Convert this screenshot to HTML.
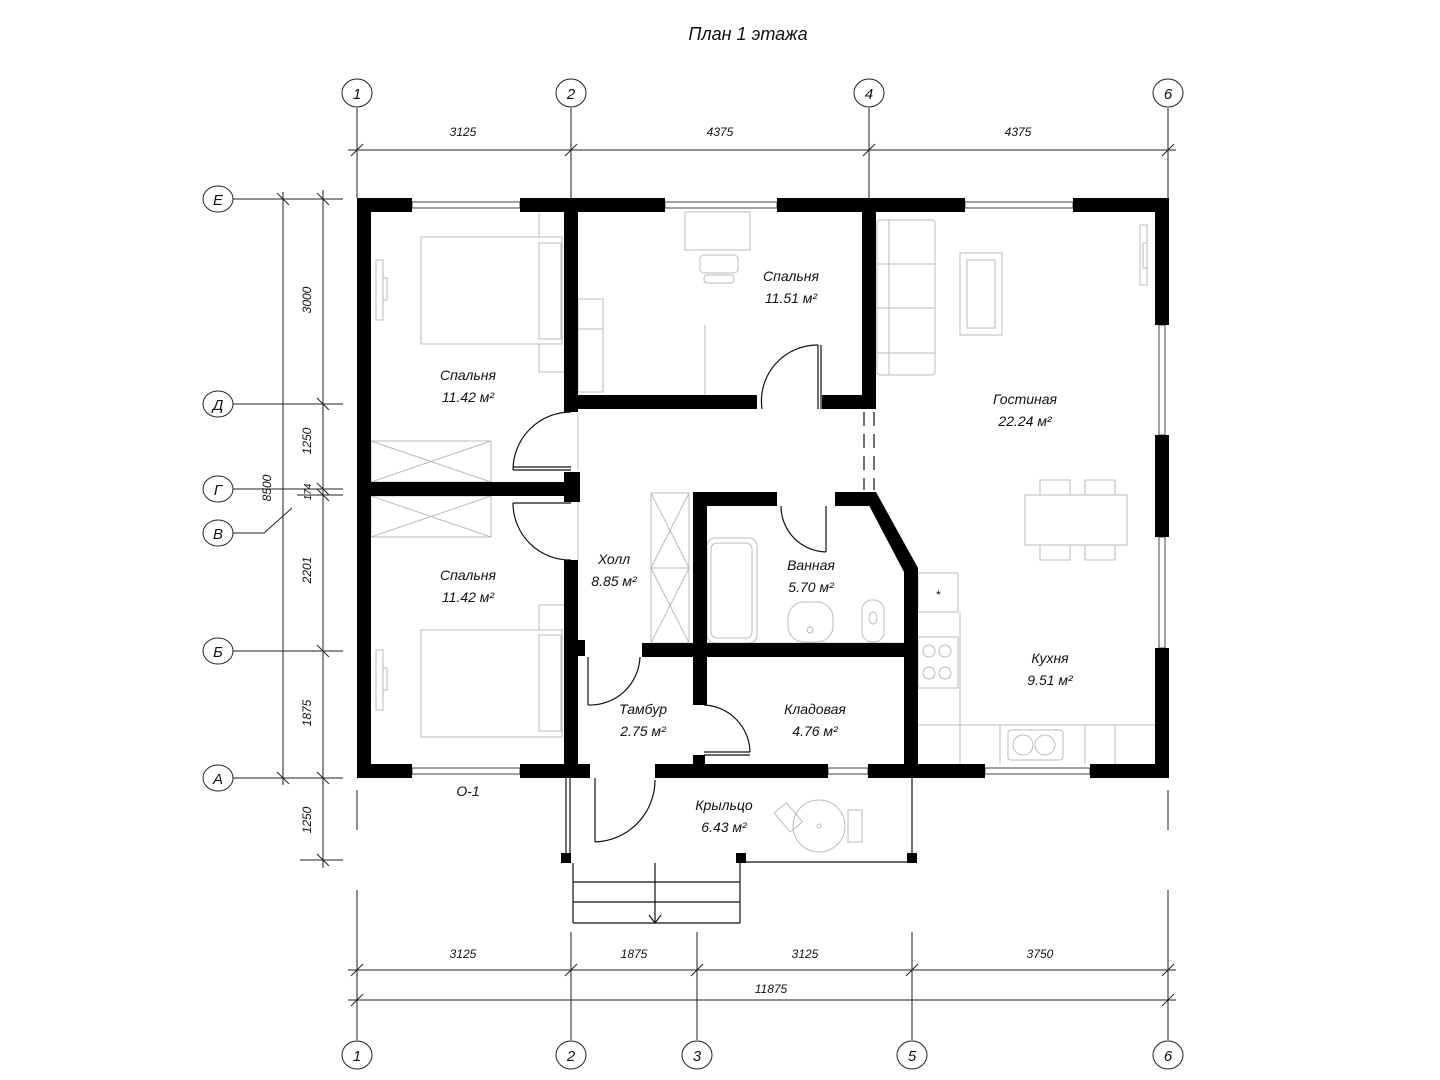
<!DOCTYPE html>
<html><head><meta charset="utf-8"><style>
html,body{margin:0;padding:0;background:#fff}
svg{display:block}
text{font-family:"Liberation Sans",sans-serif;font-style:italic;fill:#111}
</style></head><body>
<svg width="1440" height="1080" viewBox="0 0 1440 1080" xmlns="http://www.w3.org/2000/svg">
<rect width="1440" height="1080" fill="#fff"/>
<text x="748" y="40" font-size="18" text-anchor="middle">План 1 этажа</text>

<g stroke="#222" stroke-width="1" fill="none">
<line x1="357" y1="108" x2="357" y2="198"/><line x1="571" y1="108" x2="571" y2="198"/>
<line x1="869" y1="108" x2="869" y2="198"/><line x1="1168" y1="108" x2="1168" y2="198"/>
<line x1="348" y1="150" x2="1176" y2="150"/>
<line x1="351" y1="156" x2="363" y2="144"/><line x1="565" y1="156" x2="577" y2="144"/>
<line x1="863" y1="156" x2="875" y2="144"/><line x1="1162" y1="156" x2="1174" y2="144"/>
<ellipse cx="357" cy="93" rx="15" ry="14"/><ellipse cx="571" cy="93" rx="15" ry="14"/>
<ellipse cx="869" cy="93" rx="15" ry="14"/><ellipse cx="1168" cy="93" rx="15" ry="14"/>

<ellipse cx="218" cy="199" rx="15" ry="13"/><ellipse cx="218" cy="404" rx="15" ry="13"/>
<ellipse cx="218" cy="489" rx="15" ry="13"/><ellipse cx="218" cy="533" rx="15" ry="13"/>
<ellipse cx="218" cy="651" rx="15" ry="13"/><ellipse cx="218" cy="778" rx="15" ry="13"/>
<line x1="233" y1="199" x2="343" y2="199"/><line x1="233" y1="404" x2="343" y2="404"/>
<line x1="233" y1="489" x2="343" y2="489"/><line x1="297" y1="495" x2="343" y2="495"/>
<polyline points="233,533 264,533 292,508"/>
<line x1="233" y1="651" x2="343" y2="651"/><line x1="233" y1="778" x2="343" y2="778"/>
<line x1="300" y1="860" x2="343" y2="860"/>
<line x1="283" y1="192" x2="283" y2="785"/>
<line x1="323" y1="190" x2="323" y2="868"/>
<line x1="277" y1="193" x2="289" y2="205"/><line x1="277" y1="772" x2="289" y2="784"/>
<line x1="317" y1="193" x2="329" y2="205"/><line x1="317" y1="398" x2="329" y2="410"/>
<line x1="317" y1="483" x2="329" y2="495"/><line x1="317" y1="489" x2="329" y2="501"/>
<line x1="317" y1="645" x2="329" y2="657"/><line x1="317" y1="772" x2="329" y2="784"/>
<line x1="317" y1="854" x2="329" y2="866"/>

<line x1="357" y1="790" x2="357" y2="830"/><line x1="357" y1="890" x2="357" y2="1040"/>
<line x1="1168" y1="790" x2="1168" y2="830"/><line x1="1168" y1="890" x2="1168" y2="1040"/>
<line x1="571" y1="932" x2="571" y2="1040"/><line x1="697" y1="932" x2="697" y2="1040"/>
<line x1="912" y1="932" x2="912" y2="1040"/>
<line x1="348" y1="970" x2="1176" y2="970"/><line x1="348" y1="1000" x2="1176" y2="1000"/>
<line x1="351" y1="976" x2="363" y2="964"/><line x1="565" y1="976" x2="577" y2="964"/>
<line x1="691" y1="976" x2="703" y2="964"/><line x1="906" y1="976" x2="918" y2="964"/>
<line x1="1162" y1="976" x2="1174" y2="964"/>
<line x1="351" y1="1006" x2="363" y2="994"/><line x1="1162" y1="1006" x2="1174" y2="994"/>
<ellipse cx="357" cy="1055" rx="15" ry="14"/><ellipse cx="571" cy="1055" rx="15" ry="14"/>
<ellipse cx="697" cy="1055" rx="15" ry="14"/><ellipse cx="912" cy="1055" rx="15" ry="14"/>
<ellipse cx="1168" cy="1055" rx="15" ry="14"/>
</g>

<g font-size="15" text-anchor="middle">
<text x="357" y="99">1</text><text x="571" y="99">2</text><text x="869" y="99">4</text><text x="1168" y="99">6</text>
<text x="357" y="1061">1</text><text x="571" y="1061">2</text><text x="697" y="1061">3</text><text x="912" y="1061">5</text><text x="1168" y="1061">6</text>
<text x="218" y="205">Е</text><text x="218" y="410">Д</text><text x="218" y="495">Г</text>
<text x="218" y="539">В</text><text x="218" y="657">Б</text><text x="218" y="784">А</text>
</g>
<g font-size="12" text-anchor="middle">
<text x="463" y="136">3125</text><text x="720" y="136">4375</text><text x="1018" y="136">4375</text>
<text x="463" y="958">3125</text><text x="634" y="958">1875</text><text x="805" y="958">3125</text><text x="1040" y="958">3750</text>
<text x="771" y="993">11875</text>
<text transform="translate(311,300) rotate(-90)">3000</text>
<text transform="translate(311,441) rotate(-90)">1250</text>
<text transform="translate(311,492) rotate(-90)" font-size="10">174</text>
<text transform="translate(311,570) rotate(-90)">2201</text>
<text transform="translate(311,713) rotate(-90)">1875</text>
<text transform="translate(311,820) rotate(-90)">1250</text>
<text transform="translate(271,488) rotate(-90)">8500</text>
</g>

<g stroke="#bbb" stroke-width="1" fill="none">
<rect x="421" y="237" width="141" height="107"/><rect x="539" y="243" width="22" height="96"/>
<line x1="539" y1="213" x2="539" y2="237"/><line x1="539" y1="344" x2="539" y2="372"/><line x1="539" y1="372" x2="564" y2="372"/>
<rect x="376" y="260" width="7" height="60"/><rect x="383" y="278" width="4" height="22"/>
<rect x="421" y="630" width="141" height="107"/><rect x="539" y="635" width="22" height="96"/>
<line x1="539" y1="605" x2="564" y2="605"/><line x1="539" y1="605" x2="539" y2="630"/>
<rect x="376" y="650" width="7" height="60"/><rect x="383" y="668" width="4" height="22"/>
<rect x="371" y="441" width="120" height="41"/><line x1="371" y1="441" x2="491" y2="482"/><line x1="491" y1="441" x2="371" y2="482"/>
<rect x="371" y="496" width="120" height="41"/><line x1="371" y1="496" x2="491" y2="537"/><line x1="491" y1="496" x2="371" y2="537"/>
<rect x="685" y="212" width="65" height="38"/><rect x="700" y="255" width="38" height="18" rx="4"/><rect x="704" y="275" width="30" height="8" rx="3"/>
<rect x="578" y="299" width="25" height="93"/><line x1="578" y1="329" x2="603" y2="329"/>
<line x1="705" y1="325" x2="705" y2="395"/>
<rect x="877" y="220" width="58" height="155" rx="3"/><line x1="889" y1="220" x2="889" y2="375"/>
<line x1="877" y1="264" x2="935" y2="264"/><line x1="877" y1="308" x2="935" y2="308"/><line x1="877" y1="353" x2="935" y2="353"/>
<rect x="960" y="253" width="42" height="82"/><rect x="967" y="260" width="28" height="68"/>
<rect x="1140" y="225" width="7" height="60"/><rect x="1143" y="243" width="4" height="25"/>
<rect x="1025" y="495" width="102" height="50"/>
<rect x="1040" y="480" width="30" height="15"/><rect x="1085" y="480" width="30" height="15"/>
<rect x="1040" y="545" width="30" height="15"/><rect x="1085" y="545" width="30" height="15"/>
<rect x="918" y="573" width="40" height="39"/>
<rect x="918" y="637" width="40" height="51"/>
<circle cx="929" cy="651" r="6"/><circle cx="945" cy="651" r="6"/><circle cx="929" cy="673" r="6"/><circle cx="945" cy="673" r="6"/>
<line x1="918" y1="725" x2="1155" y2="725"/><line x1="960" y1="612" x2="960" y2="764"/>
<line x1="1000" y1="725" x2="1000" y2="764"/><line x1="1085" y1="725" x2="1085" y2="764"/><line x1="1115" y1="725" x2="1115" y2="764"/>
<rect x="1008" y="730" width="55" height="30" rx="3"/><circle cx="1023" cy="745" r="10"/><circle cx="1045" cy="745" r="10"/>
<rect x="651" y="493" width="38" height="150"/><line x1="651" y1="493" x2="689" y2="568"/><line x1="689" y1="493" x2="651" y2="568"/>
<line x1="651" y1="568" x2="689" y2="643"/><line x1="689" y1="568" x2="651" y2="643"/><line x1="651" y1="568" x2="689" y2="568"/>
<rect x="707" y="538" width="50" height="105" rx="8"/><rect x="711" y="543" width="41" height="95" rx="6"/>
<rect x="788" y="602" width="45" height="40" rx="16"/><circle cx="810" cy="630" r="3"/>
<rect x="862" y="600" width="22" height="42" rx="10"/><ellipse cx="873" cy="618" rx="4" ry="6"/>
<line x1="707" y1="643" x2="904" y2="643"/>
<circle cx="819" cy="826" r="26"/><circle cx="819" cy="826" r="2"/>
<rect x="780" y="805" width="16" height="25" transform="rotate(-40 788 817)"/><rect x="848" y="810" width="14" height="32"/>
<line x1="578" y1="498" x2="578" y2="560"/><line x1="578" y1="415" x2="578" y2="470"/>
</g>

<g fill="#fff" stroke="#444" stroke-width="1">
<rect x="412" y="202" width="108" height="6"/><rect x="665" y="202" width="112" height="6"/><rect x="965" y="202" width="108" height="6"/>
<rect x="412" y="768" width="108" height="6"/><rect x="828" y="768" width="40" height="6"/><rect x="985" y="768" width="105" height="6"/>
<rect x="1159" y="325" width="6" height="110"/><rect x="1159" y="537" width="6" height="111"/>
</g>

<g fill="#000">
<rect x="357" y="198" width="55" height="14"/><rect x="520" y="198" width="145" height="14"/>
<rect x="777" y="198" width="188" height="14"/><rect x="1073" y="198" width="96" height="14"/>
<rect x="357" y="198" width="14" height="580"/>
<rect x="1155" y="198" width="14" height="127"/><rect x="1155" y="435" width="14" height="102"/><rect x="1155" y="648" width="14" height="130"/>
<rect x="357" y="764" width="55" height="14"/><rect x="520" y="764" width="70" height="14"/>
<rect x="655" y="764" width="173" height="14"/><rect x="868" y="764" width="117" height="14"/><rect x="1090" y="764" width="79" height="14"/>
<rect x="564" y="198" width="14" height="214"/>
<rect x="564" y="472" width="16" height="30"/>
<rect x="357" y="482" width="221" height="14"/>
<rect x="564" y="560" width="14" height="218"/><rect x="572" y="640" width="13" height="16"/>
<rect x="564" y="395" width="193" height="14"/><rect x="822" y="395" width="54" height="14"/>
<rect x="862" y="198" width="14" height="211"/>
<rect x="693" y="492" width="84" height="14"/><rect x="835" y="492" width="41" height="14"/>
<polygon points="862,492 876,492 918,568 918,578 904,578 904,572"/>
<rect x="904" y="568" width="14" height="210"/>
<rect x="693" y="492" width="14" height="213"/>
<rect x="642" y="643" width="276" height="14"/>
<rect x="693" y="755" width="12" height="9"/>
<rect x="561" y="853" width="10" height="10"/><rect x="736" y="853" width="10" height="10"/><rect x="907" y="853" width="10" height="10"/>
</g>

<g stroke="#111" stroke-width="1.2" fill="none">
<path d="M513,470 A58,58 0 0 1 571,412"/><line x1="513" y1="470" x2="571" y2="470"/><line x1="513" y1="467" x2="571" y2="467"/>
<path d="M513,503 A57,57 0 0 0 571,560"/><line x1="513" y1="503" x2="571" y2="503"/>
<path d="M762,409 A56,56 0 0 1 818,345"/><line x1="818" y1="345" x2="818" y2="409"/><line x1="821" y1="345" x2="821" y2="409"/>
<path d="M781,506 A46,46 0 0 0 826,552"/><line x1="826" y1="506" x2="826" y2="552"/>
<path d="M640,657 A50,50 0 0 1 588,705"/><line x1="588" y1="657" x2="588" y2="705"/>
<path d="M704,705 A48,48 0 0 1 750,752"/><line x1="704" y1="752" x2="750" y2="752"/><line x1="704" y1="755" x2="750" y2="755"/>
<path d="M595,842 A62,62 0 0 0 655,780"/><line x1="595" y1="778" x2="595" y2="842"/>
<line x1="566" y1="778" x2="566" y2="853"/><line x1="570" y1="778" x2="570" y2="853"/>
<line x1="912" y1="778" x2="912" y2="853"/><line x1="746" y1="862" x2="907" y2="862"/>
<line x1="573" y1="863" x2="573" y2="923"/><line x1="740" y1="863" x2="740" y2="923"/>
<line x1="573" y1="882" x2="740" y2="882"/><line x1="573" y1="902" x2="740" y2="902"/><line x1="573" y1="923" x2="740" y2="923"/>
<line x1="655" y1="863" x2="655" y2="923"/><polyline points="649,915 655,923 661,915"/>
<line x1="864" y1="412" x2="864" y2="490" stroke-dasharray="14,8"/>
<line x1="874" y1="412" x2="874" y2="490" stroke-dasharray="14,8"/>
</g>
<text x="938" y="599" font-size="12" text-anchor="middle" font-style="normal">*</text>

<g font-size="14" text-anchor="middle">
<text x="468" y="380">Спальня</text><text x="468" y="402">11.42 м²</text>
<text x="791" y="281">Спальня</text><text x="791" y="303">11.51 м²</text>
<text x="1025" y="404">Гостиная</text><text x="1025" y="426">22.24 м²</text>
<text x="468" y="580">Спальня</text><text x="468" y="602">11.42 м²</text>
<text x="614" y="564">Холл</text><text x="614" y="586">8.85 м²</text>
<text x="811" y="570">Ванная</text><text x="811" y="592">5.70 м²</text>
<text x="1050" y="663">Кухня</text><text x="1050" y="685">9.51 м²</text>
<text x="643" y="714">Тамбур</text><text x="643" y="736">2.75 м²</text>
<text x="815" y="714">Кладовая</text><text x="815" y="736">4.76 м²</text>
<text x="724" y="810">Крыльцо</text><text x="724" y="832">6.43 м²</text>
<text x="468" y="796">О-1</text>
</g>
</svg>
</body></html>
